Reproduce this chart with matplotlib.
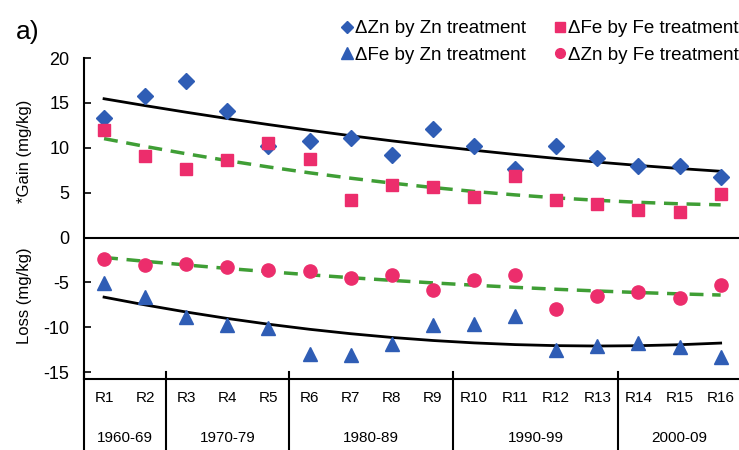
import numpy as np
import matplotlib
matplotlib.use("Agg")
import matplotlib.pyplot as plt
from matplotlib.lines import Line2D

plt.rcParams['font.family'] = ['Liberation Sans', 'DejaVu Sans']
plt.rcParams['axes.unicode_minus'] = False

# data
rounds = ['R1', 'R2', 'R3', 'R4', 'R5', 'R6', 'R7', 'R8',
          'R9', 'R10', 'R11', 'R12', 'R13', 'R14', 'R15', 'R16']
decades = ['1960-69', '1970-79', '1980-89', '1990-99', '2000-09']
decade_bounds = [0.5, 2.5, 5.5, 9.5, 13.5, 16.5]

zn_by_zn = [13.3, 15.8, 17.4, 14.1, 10.2, 10.8, 11.1, 9.2,
            12.1, 10.2, 7.6, 10.2, 8.9, 8.0, 8.0, 6.7]
fe_by_fe = [12.0, 9.1, 7.6, 8.6, 10.5, 8.7, 4.2, 5.8,
            5.6, 4.5, 6.9, 4.2, 3.7, 3.1, 2.8, 4.9]
zn_by_fe = [-2.4, -3.1, -2.9, -3.3, -3.6, -3.7, -4.5, -4.2,
            -5.8, -4.7, -4.2, -8.0, -6.5, -6.1, -6.7, -5.3]
fe_by_zn = [-5.1, -6.6, -8.8, -9.7, -10.1, -13.0, -13.1, -11.9,
            -9.8, -9.6, -8.7, -12.5, -12.1, -11.7, -12.2, -13.3]

blue = '#2f5db5'
pink = '#ec2d6c'
green = '#3f9e35'

x = np.arange(1, len(rounds) + 1)

fig = plt.figure(figsize=(7.39, 4.50), dpi=100)
fig.patch.set_facecolor('white')
ax = fig.add_axes([0.113, 0.158, 0.89, 0.713])


def trend(values):
    # second order trendline, as in the original spreadsheet chart
    c = np.polyfit(x, values, 2)
    return np.polyval(c, x)


ax.plot(x, trend(zn_by_zn), color='black', lw=2, zorder=2)
ax.plot(x, trend(fe_by_fe), color=green, lw=2.5, ls=(0, (4, 2.5)), zorder=2)
ax.plot(x, trend(fe_by_zn), color='black', lw=2, zorder=2)
ax.plot(x, trend(zn_by_fe), color=green, lw=2.5, ls=(0, (4, 2.5)), zorder=2)

ax.plot(x, zn_by_zn, 'D', color=blue, ms=8.5, ls='none', zorder=3)
ax.plot(x, fe_by_fe, 's', color=pink, ms=8.5, ls='none', zorder=3)
ax.plot(x, fe_by_zn, '^', color=blue, ms=10, ls='none', zorder=3)
ax.plot(x, zn_by_fe, 'o', color=pink, ms=9.5, ls='none', zorder=3)

ax.set_xlim(0.5, 16.5)
ax.set_ylim(-15.75, 20)
ax.axhline(0, color='black', lw=1.5, zorder=1)

ax.set_yticks([20, 15, 10, 5, 0, -5, -10, -15])
ax.tick_params(axis='y', direction='in', length=5, width=1.2, labelsize=13, pad=10)
ax.set_xticks(x)
ax.set_xticklabels(rounds, fontsize=11)
ax.tick_params(axis='x', length=0, pad=9)

for side in ['top', 'right']:
    ax.spines[side].set_visible(False)
for side in ['left', 'bottom']:
    ax.spines[side].set_linewidth(1.5)

# decade separators and labels below the axis
for b in decade_bounds[:-1]:
    ax.plot([b, b], [-15, -25], color='black', lw=1.5, clip_on=False)
for i, d in enumerate(decades):
    mid = (decade_bounds[i] + decade_bounds[i + 1]) / 2
    ax.text(mid, -22.3, d, ha='center', va='center', fontsize=11, clip_on=False)

ax.text(-0.089, 9.6, '*Gain (mg/kg)', transform=ax.get_yaxis_transform(),
        rotation=90, ha='center', va='center', fontsize=12)
ax.text(-0.089, -6.5, 'Loss (mg/kg)', transform=ax.get_yaxis_transform(),
        rotation=90, ha='center', va='center', fontsize=12)

fig.text(0.022, 0.93, 'a)', fontsize=19, ha='left', va='center')

handles = [
    Line2D([], [], marker='D', color=blue, ls='none', ms=6),
    Line2D([], [], marker='^', color=blue, ls='none', ms=8),
    Line2D([], [], marker='s', color=pink, ls='none', ms=7),
    Line2D([], [], marker='o', color=pink, ls='none', ms=7),
]
labels = ['\u0394Zn by Zn treatment', '\u0394Fe by Zn treatment',
          '\u0394Fe by Fe treatment', '\u0394Zn by Fe treatment']
fig.legend(handles, labels, ncol=2, loc='upper left', bbox_to_anchor=(0.462, 0.955),
           frameon=False, fontsize=13.5, handlelength=0.6, handletextpad=0.12,
           columnspacing=1.5, labelspacing=0.5, borderpad=0, borderaxespad=0)

fig.savefig('out.png', dpi=100, facecolor=fig.get_facecolor())
